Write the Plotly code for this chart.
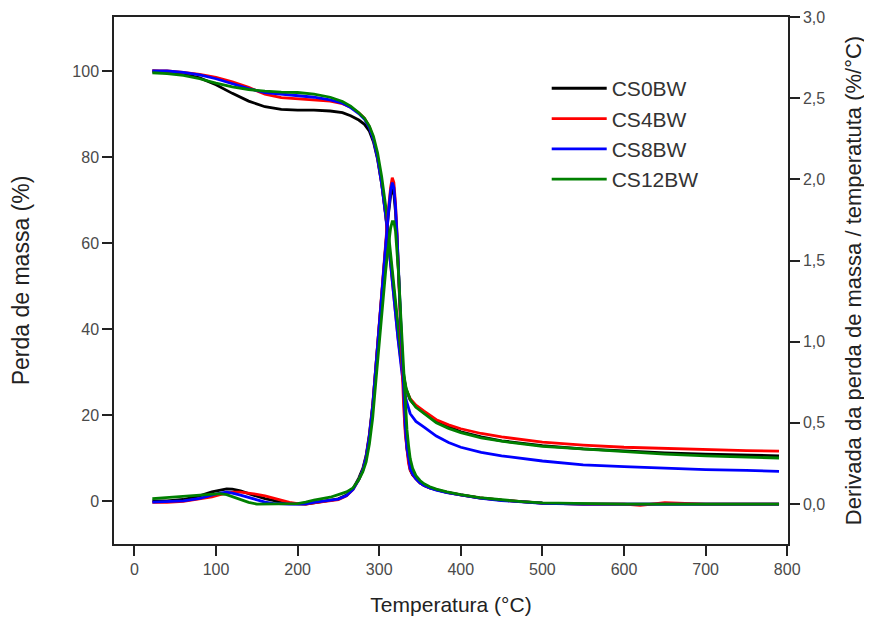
import plotly.graph_objects as go

# ---------------- data ----------------
series_names = ["CS0BW", "CS4BW", "CS8BW", "CS12BW"]
series_colors = ["#000000", "#ff0000", "#0000ff", "#008000"]

# TG curves (left axis, Perda de massa %)
temp_tg = [22, 40, 60, 80, 100, 120, 140, 160, 180, 200, 220, 240, 255, 265, 275,
           282, 288, 293, 298, 303, 308, 313, 318, 323, 328, 333, 338, 345, 355,
           370, 385, 400, 425, 450, 500, 550, 600, 650, 700, 750, 790]

tg_cs0bw = [100.0, 99.8, 99.3, 98.4, 96.8, 94.8, 93.0, 91.7, 91.1, 90.9, 90.9, 90.7, 90.3, 89.6, 88.6,
            87.6, 86.0, 83.5, 79.5, 73.8, 66.5, 57.5, 47.5, 38.5, 31.0, 26.0, 23.5, 22.0, 20.5,
            18.7, 17.3, 16.1, 14.9, 14.0, 12.9, 12.1, 11.6, 11.2, 10.9, 10.7, 10.5]
tg_cs4bw = [100.0, 100.0, 99.7, 99.2, 98.5, 97.5, 96.2, 94.6, 93.8, 93.5, 93.3, 93.0, 92.4, 91.6, 90.3,
            89.0, 87.0, 84.2, 80.0, 74.0, 66.5, 57.0, 47.0, 38.0, 30.5, 25.8, 23.8, 22.3, 20.9,
            18.9, 17.7, 16.8, 15.7, 14.9, 13.7, 13.0, 12.5, 12.2, 11.9, 11.7, 11.6]
tg_cs8bw = [100.0, 100.0, 99.7, 99.1, 98.2, 97.1, 95.9, 95.0, 94.6, 94.3, 93.9, 93.3, 92.5, 91.5, 90.1,
            88.8, 86.8, 84.0, 79.8, 73.8, 66.2, 57.0, 47.0, 37.8, 29.5, 23.5, 20.3, 18.5, 17.2,
            15.1, 13.6, 12.5, 11.3, 10.5, 9.3, 8.4, 8.0, 7.6, 7.3, 7.1, 6.9]
tg_cs12bw = [99.6, 99.4, 99.0, 98.2, 97.2, 96.3, 95.7, 95.3, 95.1, 95.0, 94.6, 93.9, 92.9, 91.8, 90.3,
             89.0, 87.2, 84.8, 81.0, 75.5, 68.5, 59.5, 49.5, 40.0, 31.8, 26.2, 23.6, 21.8, 20.3,
             18.2, 16.9, 15.9, 14.7, 13.9, 12.7, 12.1, 11.4, 10.9, 10.5, 10.2, 10.0]

# DTG curves (right axis, %/°C)
temp_dtg = [22, 40, 60, 80, 95, 105, 113, 120, 130, 140, 150, 160, 170, 180, 190, 200, 210,
            220, 230, 240, 250, 260, 268, 275, 280, 284, 288, 292, 296, 300, 304, 308, 311,
            314, 316, 318, 320, 322, 324, 326, 328, 330, 332, 334, 336, 338, 341, 345, 350,
            355, 362, 370, 383, 400, 423, 450, 475, 500, 550, 600, 620, 650, 700, 750, 790]

dtg_cs0bw = [0.02, 0.02, 0.028, 0.05, 0.075, 0.088, 0.094, 0.092, 0.082, 0.064, 0.047, 0.033, 0.022, 0.01, 0.003, 0.0, 0.0,
             0.008, 0.015, 0.022, 0.032, 0.055, 0.095, 0.16, 0.22, 0.3, 0.43, 0.61, 0.86, 1.12, 1.36, 1.6, 1.77,
             1.9, 1.94, 1.91, 1.8, 1.62, 1.38, 1.12, 0.87, 0.64, 0.46, 0.34, 0.26, 0.21, 0.18, 0.155, 0.13,
             0.115, 0.1, 0.088, 0.072, 0.056, 0.038, 0.024, 0.014, 0.006, 0.0, 0.0, 0.0, 0.0, 0.0, 0.0, 0.0]
dtg_cs4bw = [0.01, 0.01, 0.016, 0.03, 0.045, 0.058, 0.068, 0.074, 0.074, 0.068, 0.06, 0.05, 0.037, 0.022, 0.01, 0.003, 0.0,
             0.008, 0.015, 0.02, 0.028, 0.05, 0.09, 0.15, 0.21, 0.29, 0.42, 0.6, 0.86, 1.14, 1.38, 1.62, 1.8,
             1.95, 2.01, 1.98, 1.85, 1.65, 1.38, 1.1, 0.84, 0.6, 0.43, 0.32, 0.25, 0.21, 0.18, 0.155, 0.13,
             0.115, 0.1, 0.088, 0.072, 0.056, 0.038, 0.024, 0.014, 0.006, 0.0, 0.0, -0.008, 0.008, 0.0, 0.0, 0.0]
dtg_cs8bw = [0.012, 0.014, 0.02, 0.035, 0.055, 0.068, 0.073, 0.068, 0.055, 0.04, 0.025, 0.012, 0.004, 0.0, 0.0, 0.0, 0.002,
             0.01, 0.016, 0.022, 0.03, 0.052, 0.09, 0.15, 0.21, 0.29, 0.42, 0.6, 0.85, 1.12, 1.36, 1.6, 1.78,
             1.93, 1.98, 1.95, 1.83, 1.64, 1.4, 1.14, 0.9, 0.66, 0.48, 0.35, 0.27, 0.22, 0.185, 0.155, 0.13,
             0.115, 0.1, 0.086, 0.07, 0.054, 0.036, 0.022, 0.012, 0.005, 0.0, 0.0, 0.0, 0.0, 0.0, 0.0, 0.0]
dtg_cs12bw = [0.033, 0.04, 0.046, 0.054, 0.061, 0.064, 0.058, 0.045, 0.026, 0.01, 0.0, 0.0, 0.0, 0.0, 0.0, 0.003, 0.012,
              0.025, 0.033, 0.042, 0.058, 0.075, 0.1, 0.15, 0.2, 0.26, 0.37, 0.53, 0.76, 1.0, 1.24, 1.44, 1.58,
              1.7, 1.74, 1.74, 1.68, 1.56, 1.4, 1.2, 1.0, 0.8, 0.62, 0.46, 0.36, 0.28, 0.22, 0.175, 0.145,
              0.125, 0.107, 0.092, 0.075, 0.058, 0.04, 0.026, 0.015, 0.007, 0.002, 0.0, 0.0, 0.0, 0.0, 0.0, 0.0]

x_ticks = [0, 100, 200, 300, 400, 500, 600, 700, 800]
left_ticks = [0, 20, 40, 60, 80, 100]
right_ticks = [0.0, 0.5, 1.0, 1.5, 2.0, 2.5, 3.0]

tg_data = [tg_cs0bw, tg_cs4bw, tg_cs8bw, tg_cs12bw]
dtg_data = [dtg_cs0bw, dtg_cs4bw, dtg_cs8bw, dtg_cs12bw]

# ---------------- figure ----------------
fig = go.Figure()
FONT = "Liberation Sans, Arial, sans-serif"

for name, color, tg in zip(series_names, series_colors, tg_data):
    fig.add_trace(go.Scatter(x=temp_tg, y=tg, mode="lines", name=name,
                             legendgroup=name, showlegend=True,
                             line=dict(color=color, width=2.8), yaxis="y"))
for name, color, dtg in zip(series_names, series_colors, dtg_data):
    fig.add_trace(go.Scatter(x=temp_dtg, y=dtg, mode="lines", name=name,
                             legendgroup=name, showlegend=False,
                             line=dict(color=color, width=2.8), yaxis="y2"))

axis_common = dict(showline=True, linecolor="#222222", linewidth=1.5,
                   ticks="outside", ticklen=10, tickwidth=1.5, tickcolor="#222222",
                   showgrid=False, zeroline=False, automargin=False,
                   ticklabeloverflow="allow",
                   tickfont=dict(family=FONT, size=16, color="#4a4a4a"))

# the page body adds an 8px offset; margins are chosen so the plot frame
# lands where the reference frame is inside the 872x619 window
fig.update_layout(
    width=872, height=619,
    paper_bgcolor="white", plot_bgcolor="white",
    margin=dict(l=106, r=92, t=9, b=83),
    separators=",.",
    font=dict(family=FONT, color="#222222"),
    xaxis=dict(range=[-25, 801], tickvals=x_ticks, mirror=True,
               title=dict(text="Temperatura (°C)", font=dict(family=FONT, size=21, color="#222222"), standoff=20),
               **axis_common),
    yaxis=dict(range=[-10.0, 112.56], tickvals=left_ticks,
               title=dict(text="Perda de massa (%)", font=dict(family=FONT, size=23, color="#222222"), standoff=40),
               **axis_common),
    yaxis2=dict(range=[-0.246, 3.0], tickvals=right_ticks, tickformat=".1f",
                overlaying="y", side="right",
                title=dict(text="Derivada da perda de massa / temperatuta (%/°C)",
                           font=dict(family=FONT, size=22, color="#222222"), standoff=21),
                **axis_common),
    legend=dict(x=0.642, y=0.903, xanchor="left", yanchor="top",
                bgcolor="rgba(0,0,0,0)", borderwidth=0,
                font=dict(family=FONT, size=21, color="#333333"),
                itemwidth=55, tracegroupgap=0),
    showlegend=True,
)

fig.write_html("out.html")
